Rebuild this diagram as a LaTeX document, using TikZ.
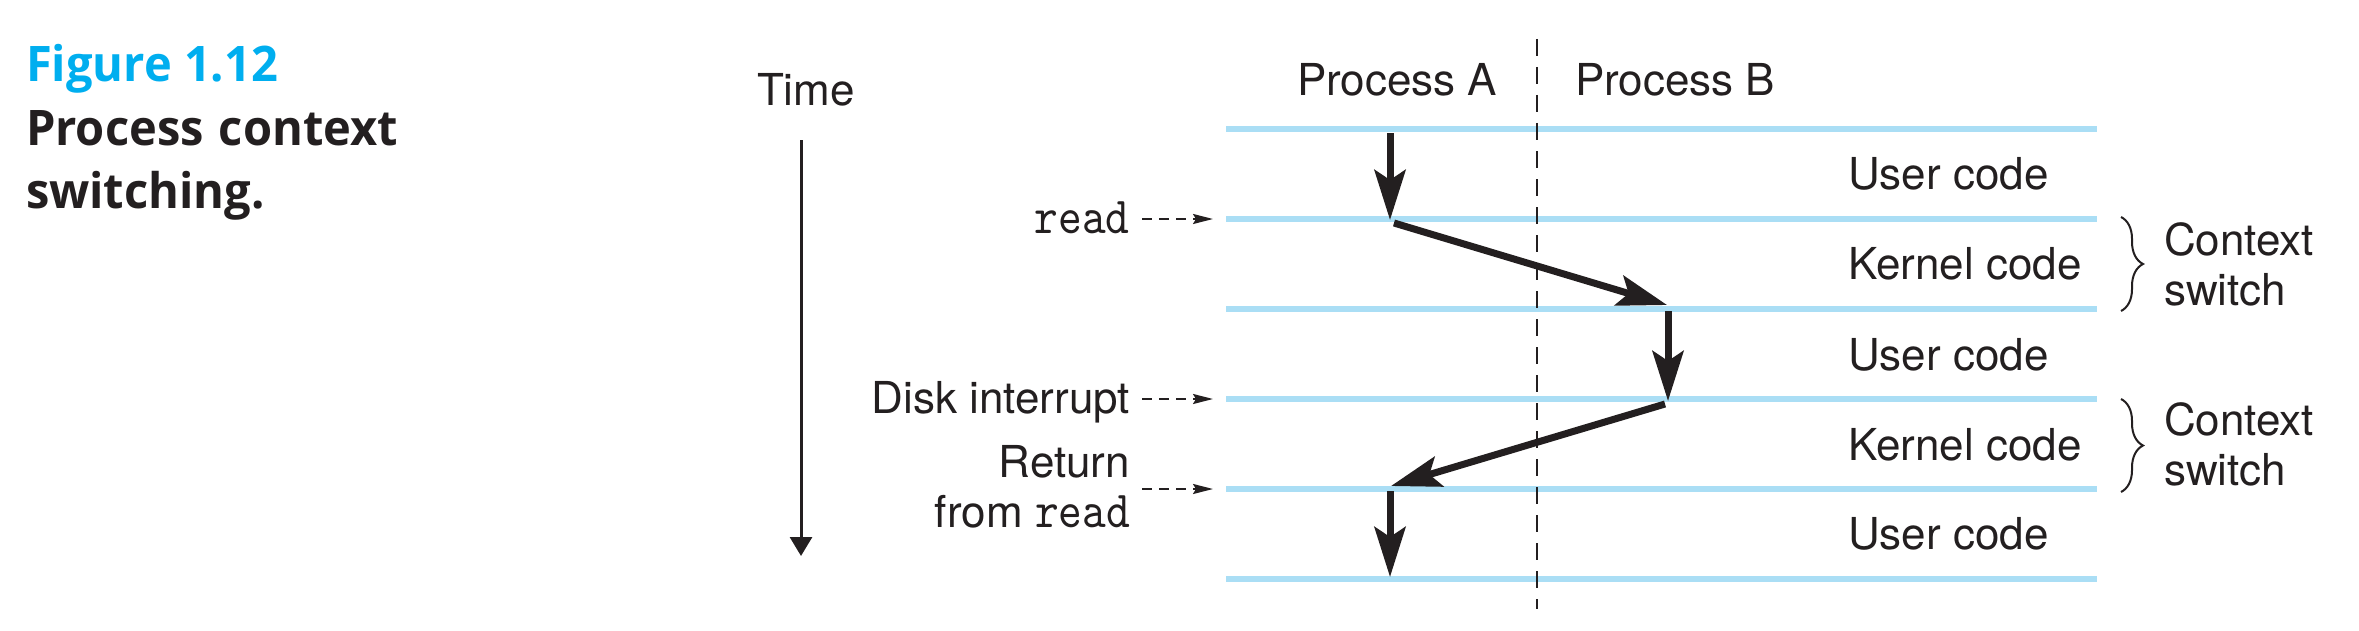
\documentclass[tikz,border=0pt]{standalone}
\usepackage{fontspec}
\setmainfont{TeX Gyre Heros}
\newfontfamily\capfont{Open Sans}[FakeStretch=0.96]
\newfontfamily\codefont{lmmono10-regular.otf}[FakeStretch=0.87]
\usetikzlibrary{arrows.meta,decorations.pathreplacing}
\definecolor{lineblue}{RGB}{170,222,245}
\definecolor{ink}{RGB}{35,31,32}
\definecolor{figcyan}{RGB}{0,174,239}
\newcommand\codetxt[1]{{\fontsize{26}{25}\selectfont\codefont #1}}
\tikzset{
  lbl/.style={font=\fontsize{22}{25}\selectfont, text=ink, inner sep=0pt, outer sep=0pt},
  capstyle/.style={font=\capfont\bfseries\fontsize{24.5}{31.5}\selectfont, inner sep=0pt, outer sep=0pt, anchor=base west},
  codeline/.style={lineblue, line width=2.75pt},
  divider/.style={ink, line width=1.35pt, dash pattern=on 8.5pt off 5.5pt},
  flow/.style={ink, line width=3.5pt, -{Stealth[length=25pt,width=15.5pt,inset=5pt]}},
  timearrow/.style={ink, line width=1.5pt, -{Triangle[length=9.5pt,width=11pt]}},
  pointer/.style={ink, line width=1pt, dash pattern=on 5pt off 3.5pt, -{Stealth[length=10pt,width=5pt,inset=1.5pt]}},
  bracestyle/.style={ink, line width=1pt, decorate, decoration={brace, amplitude=11pt}}
}
\begin{document}
\begin{tikzpicture}[x=0.5pt,y=-0.5pt]
\useasboundingbox (0,0) rectangle (2359,631);
% caption
\node[capstyle, text=figcyan] (fig) at (26,82) {Figure 1.12};
\node[capstyle, text=ink] (cap1) at (26,145) {\makebox[186pt][s]{Process context}};
\node[capstyle, text=ink] (cap2) at (26,208) {switching.};
% time axis
\node[lbl, anchor=base west] (time) at (757,105) {Time};
\coordinate (t0) at (801,140);
\coordinate (t1) at (801,556);
\draw[timearrow] (t0) -- (t1);
% headers
\node[lbl, anchor=base west] (pa) at (1297,96) {Process A};
\node[lbl, anchor=base west] (pb) at (1575,96) {Process B};
% horizontal code boundaries
\foreach \i/\y in {1/129,2/219,3/309,4/399,5/489,6/579}{
  \coordinate (L\i w) at (1226,\y);
  \coordinate (L\i e) at (2097,\y);
  \draw[codeline] (L\i w) -- (L\i e);
}
% divider
\coordinate (d0) at (1537,39);
\coordinate (d1) at (1537,609);
\draw[divider] (d0) -- (d1);
% row labels
\node[lbl, anchor=base west] (u1) at (1848,189) {User code};
\node[lbl, anchor=base west] (k1) at (1848,279) {Kernel code};
\node[lbl, anchor=base west] (u2) at (1848,370) {User code};
\node[lbl, anchor=base west] (k2) at (1848,460) {Kernel code};
\node[lbl, anchor=base west] (u3) at (1848,549) {User code};
% braces
\coordinate (b1t) at (2121,217);
\coordinate (b1b) at (2121,311);
\coordinate (b2t) at (2121,399);
\coordinate (b2b) at (2121,492);
\draw[bracestyle] (b1t) -- (b1b);
\draw[bracestyle] (b2t) -- (b2b);
\node[lbl, anchor=west, align=left] (cs1) at (2164,264) {Context\\switch};
\node[lbl, anchor=west, align=left] (cs2) at (2164,444) {Context\\switch};
% left event labels
\node[anchor=base east, inner sep=0pt, text=ink] (rd) at (1130,233) {\codetxt{read}};
\node[lbl, anchor=base east] (disk) at (1130,413) {Disk interrupt};
\node[lbl, anchor=east, align=right] (ret) at (1130,487) {Return\\from \codetxt{read}};
\draw[pointer, shorten <=6pt, shorten >=6.5pt] (rd.east |- L2w) -- (L2w);
\draw[pointer, shorten <=6pt, shorten >=6.5pt] (disk.east |- L4w) -- (L4w);
\draw[pointer, shorten <=6pt, shorten >=6.5pt] (ret.east |- L5w) -- (L5w);
% control flow
\coordinate (p1) at (1390,133);
\coordinate (p2) at (1390,220);
\coordinate (p3s) at (1394,223);
\coordinate (p3) at (1667,305);
\coordinate (p4s) at (1668,311);
\coordinate (p4) at (1668,401);
\coordinate (p5s) at (1665,404);
\coordinate (p5) at (1391,486);
\coordinate (p6s) at (1390,491);
\coordinate (p6) at (1390,577);
\draw[flow] (p1) -- (p2);
\draw[flow] (p3s) -- (p3);
\draw[flow] (p4s) -- (p4);
\draw[flow] (p5s) -- (p5);
\draw[flow] (p6s) -- (p6);
\end{tikzpicture}
\end{document}
